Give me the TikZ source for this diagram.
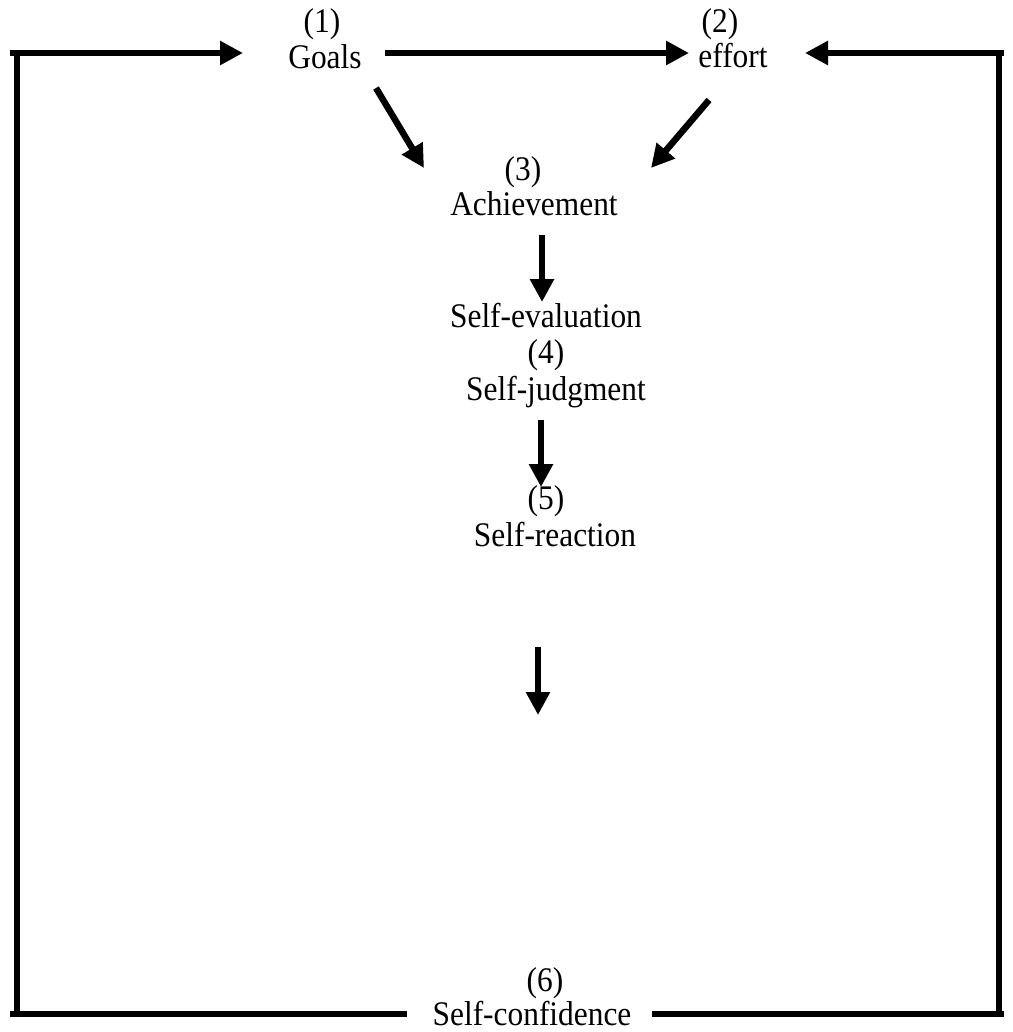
\documentclass[tikz,border=0pt]{standalone}
\usepackage{fontspec}
\setmainfont{Liberation Serif}
\usetikzlibrary{arrows.meta}
\tikzset{
  lbl/.style={anchor=base,inner sep=0pt,xscale=0.91,font=\fontsize{34.5}{40}\selectfont},
  thick line/.style={line width=6.5pt,line cap=butt},
  arr/.style={thick line,-{Triangle[length=23pt,width=23pt]}}
}
\begin{document}
\begin{tikzpicture}[x=1pt,y=-1pt]
\useasboundingbox (0,0) rectangle (1012,1032);
% labels
\node[lbl] (n1) at (322,33) {(1)};
\node[lbl] (goals) at (325,69) {Goals};
\node[lbl] (n2) at (720,33) {(2)};
\node[lbl] (effort) at (733,68) {effort};
\node[lbl] (n3) at (523,181) {(3)};
\node[lbl] (ach) at (534,216) {Achievement};
\node[lbl] (seval) at (546,327) {Self-evaluation};
\node[lbl] (n4) at (546,363) {(4)};
\node[lbl] (sjudg) at (556,400) {Self-judgment};
\node[lbl] (n5) at (546,509) {(5)};
\node[lbl] (sreact) at (555,546) {Self-reaction};
\node[lbl] (n6) at (545,991) {(6)};
\node[lbl] (sconf) at (532,1025) {Self-confidence};
% coordinates
\coordinate (tl0) at (10,53);
\coordinate (tl1) at (243,53);
\coordinate (lv0) at (17,50);
\coordinate (lv1) at (17,1017);
\coordinate (bl0) at (10,1014);
\coordinate (bl1) at (407,1014);
\coordinate (br0) at (652,1014);
\coordinate (br1) at (1004,1014);
\coordinate (rv0) at (999,50);
\coordinate (rv1) at (999,1017);
\coordinate (tr0) at (1004,53);
\coordinate (tr1) at (805,53);
\coordinate (ge0) at (385,53);
\coordinate (ge1) at (689,53);
\coordinate (ga0) at (376,88);
\coordinate (ga1) at (424,168);
\coordinate (ea0) at (709,100);
\coordinate (ea1) at (651,168);
\coordinate (as0) at (542,235);
\coordinate (as1) at (542,302);
\coordinate (jr0) at (541,420);
\coordinate (jr1) at (541,487);
\coordinate (rc0) at (538,647);
\coordinate (rc1) at (538,715);
% loop lines
\draw[thick line] (lv0) -- (lv1);
\draw[thick line] (bl0) -- (bl1);
\draw[thick line] (br0) -- (br1);
\draw[thick line] (rv0) -- (rv1);
\draw[arr] (tl0) -- (tl1);
\draw[arr] (tr0) -- (tr1);
% arrows
\draw[arr] (ge0) -- (ge1);
\draw[arr] (ga0) -- (ga1);
\draw[arr] (ea0) -- (ea1);
\draw[arr] (as0) -- (as1);
\draw[arr] (jr0) -- (jr1);
\draw[arr] (rc0) -- (rc1);
\end{tikzpicture}
\end{document}
